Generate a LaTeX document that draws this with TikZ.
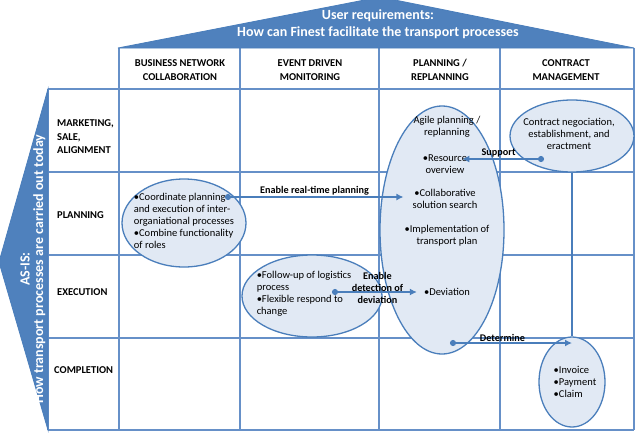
\documentclass[tikz,border=0pt]{standalone}
\usepackage{fontspec}
\setmainfont{Carlito}
\usetikzlibrary{arrows.meta,shapes.geometric}
\definecolor{fnBlue}{HTML}{4F81BD}
\definecolor{fnLine}{HTML}{4A7EBB}
\definecolor{fnGrid}{HTML}{6690C8}
\definecolor{fnFill}{HTML}{E1E9F4}
\tikzset{
  gridline/.style={draw=fnGrid, line width=1.3pt},
  band/.style={fill=fnBlue, draw=fnLine, line width=0.8pt},
  bandtxt/.style={text=white, align=center, inner sep=0pt,
              font=\fontsize{14}{17}\selectfont\bfseries},
  blob/.style={ellipse, draw=fnLine, fill=fnFill, line width=1.3pt, inner sep=0pt},
  colhead/.style={align=center, font=\fontsize{10.5}{14}\selectfont\bfseries},
  rowhead/.style={anchor=west, align=left, inner sep=0pt,
              font=\fontsize{10.5}{13.5}\selectfont\bfseries},
  note/.style={align=left, font=\fontsize{10.5}{12}\selectfont, inner sep=1pt},
  cnote/.style={note, align=center},
  flow/.style={arrows={Circle[length=6pt]-Latex[length=7pt,width=7pt]},
              draw=fnLine, line width=1.8pt},
  flowlbl/.style={font=\fontsize{10.2}{12}\selectfont\bfseries, inner sep=1pt, align=center},
  link/.style={draw=fnLine, line width=1.3pt},
}

\begin{document}
\begin{tikzpicture}[x=1pt,y=-1pt]
    \useasboundingbox[fill=white] (0,0) rectangle (641,432);
    \foreach \y in {89,172,255,338,430} \draw[gridline] (48,\y) -- (634,\y);
    \draw[gridline] (48,89) -- (48,430);
    \foreach \x in {119,240,379,500,634} \draw[gridline] (\x,48) -- (\x,430);

    \draw[band] (118,48) -- (380,-3) -- (634,48) -- cycle;
    \node[bandtxt] (req) at (378,24)
      {User requirements:\\How can Finest facilitate the transport processes};
    \draw[band] (48,89) -- (-1,262) -- (48,430) -- cycle;
    \node[bandtxt, rotate=90, font=\fontsize{14}{13.5}\selectfont\bfseries] (asis) at (33,269)
      {AS-IS:\\How transport processes are carried out today};

    \node[colhead] (bnHead) at (180,70) {BUSINESS NETWORK\\COLLABORATION};
    \node[colhead] (edHead) at (310,70) {EVENT DRIVEN\\MONITORING};
    \node[colhead] (prHead) at (440,70) {PLANNING /\\REPLANNING};
    \node[colhead] (cmHead) at (566,70) {CONTRACT\\MANAGEMENT};

    \node[rowhead] (mktRow) at (57,137) {MARKETING,\\SALE,\\ALIGNMENT};
    \node[rowhead] (plnRow) at (57,215) {PLANNING};
    \node[rowhead] (exeRow) at (57,292) {EXECUTION};
    \node[rowhead] (cmpRow) at (54,370) {COMPLETION};

    \node[blob, minimum width=124, minimum height=88] (bnc) at (184,223) {};
    \node[note] (bncTxt) at (184,221)
      {•Coordinate planning\\and execution of inter-\\organiational processes\\•Combine functionality\\of roles};
    \node[blob, minimum width=140, minimum height=82] (edm) at (312,296) {};
    \node[note] (edmTxt) at (304,294)
      {•Follow-up of logistics\\process\\•Flexible respond to\\change};
    \node[blob, minimum width=124, minimum height=248] (plan) at (442,230) {};
    \node[cnote] (agile) at (447,127) {Agile planning /\\replanning};
    \node[cnote] (res) at (445,164) {•Resource\\overview};
    \node[cnote] (collab) at (445,199) {•Collaborative\\solution search};
    \node[cnote] (impl) at (447,236) {•Implementation of\\transport plan};
    \node[cnote] (dev) at (447,292) {•Deviation};
    \node[blob, minimum width=124, minimum height=72] (contract) at (572,136) {};
    \node[cnote] (contractTxt) at (569,134)
      {Contract negociation,\\establishment, and\\eractment};
    \node[blob, minimum width=66, minimum height=90] (inv) at (572,382) {};
    \node[note] (invTxt) at (575,382) {•Invoice\\•Payment\\•Claim};

    \coordinate (rtStart) at (225,197);
    \coordinate (detStart) at (332,292);
    \coordinate (supStart) at (544,159);
    \coordinate (detmStart) at (450,343);
    \draw[flow, shorten >=8pt] (rtStart) -- (rtStart -| collab.west)
      node[flowlbl, above, pos=0.48] {Enable real-time planning};
    \draw[flow, shorten >=6pt] (detStart) -- (detStart -| dev.west)
      node[flowlbl, midway, yshift=4pt] {Enable\\detection of\\deviation};
    \draw[flow, shorten >=-6pt] (supStart) -- (supStart -| res.east)
      node[flowlbl, above, pos=0.6] {Support};
    \draw[flow] (detmStart) -- (detmStart -| inv.north)
      node[flowlbl, above, pos=0.43] {Determine};
    \draw[link] (contract.south) -- (contract.south |- inv.north);
  \end{tikzpicture}
\end{document}
